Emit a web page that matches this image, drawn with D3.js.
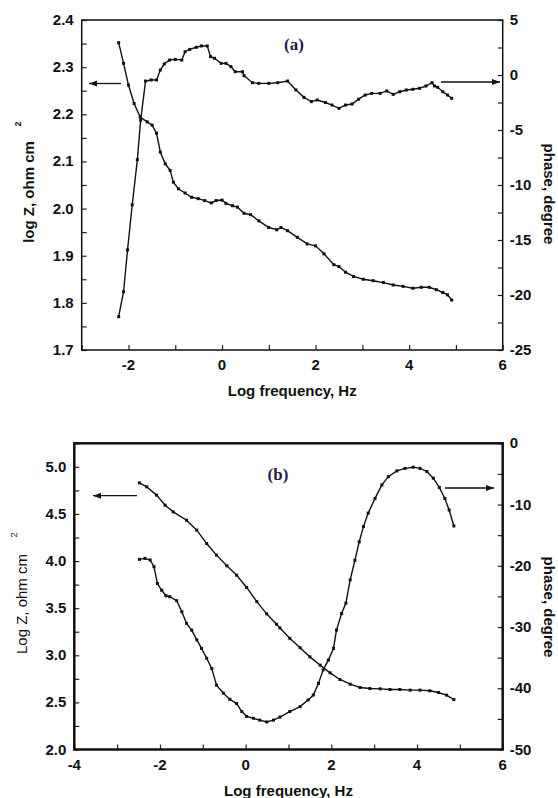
<!DOCTYPE html>
<html><head><meta charset="utf-8">
<script src="https://cdn.jsdelivr.net/npm/d3@7"></script>
<style>
html,body{margin:0;padding:0;background:#fff;}
svg{display:block;}
text{font-family:"Liberation Sans",Arial,sans-serif;fill:#111;}
</style></head>
<body>
<svg id="chart" width="558" height="798"></svg>
<script>
// ---------- Panel (a) data ----------
const aFreqZ = [-2.21,-2.105,-2.0,-1.88,-1.75,-1.6,-1.495,-1.40,-1.32,-1.214,-1.11,-1.04,-0.933,-0.79,-0.65,-0.51,-0.37,-0.23,-0.126,0,0.084,0.225,0.33,0.47,0.61,0.786,0.996,1.17,1.26,1.40,1.61,1.82,2.0,2.18,2.39,2.5,2.64,2.81,3.02,3.23,3.45,3.66,3.87,4.08,4.26,4.43,4.58,4.72,4.82,4.91];
const aLogZ  = [2.352,2.308,2.262,2.223,2.194,2.184,2.177,2.160,2.120,2.095,2.081,2.056,2.042,2.033,2.024,2.021,2.017,2.012,2.017,2.018,2.011,2.006,2.003,1.990,1.987,1.974,1.960,1.955,1.960,1.953,1.939,1.925,1.921,1.904,1.881,1.877,1.865,1.856,1.850,1.847,1.843,1.838,1.835,1.831,1.833,1.833,1.828,1.822,1.817,1.806];
const aFreqP = [-2.21,-2.105,-2.02,-1.92,-1.81,-1.74,-1.635,-1.516,-1.40,-1.32,-1.235,-1.12,-1.0,-0.86,-0.79,-0.69,-0.55,-0.44,-0.316,-0.245,-0.16,-0.02,0.084,0.19,0.28,0.435,0.47,0.65,0.786,1.0,1.19,1.40,1.58,1.75,1.91,2.035,2.21,2.35,2.5,2.64,2.78,2.92,3.06,3.2,3.38,3.52,3.66,3.8,3.94,4.08,4.22,4.36,4.49,4.54,4.61,4.72,4.82,4.91];
const aPhase = [-21.97,-19.7,-15.9,-11.8,-7.7,-4.1,-0.55,-0.45,-0.45,0.45,1.0,1.36,1.42,1.36,2.12,2.33,2.52,2.64,2.64,1.67,1.52,1.06,1.06,0.76,0.3,0.3,-0.06,-0.7,-0.76,-0.76,-0.7,-0.55,-1.36,-2.03,-2.42,-2.27,-2.5,-2.73,-3.03,-2.73,-2.64,-2.2,-1.82,-1.67,-1.67,-1.45,-1.76,-1.52,-1.36,-1.3,-1.21,-1.0,-0.7,-1.0,-1.12,-1.52,-1.82,-2.12];
const aXTicks = [-2,0,2,4,6];
const aYLeftTicks = [1.7,1.8,1.9,2.0,2.1,2.2,2.3,2.4];
const aYRightTicks = [-25,-20,-15,-10,-5,0,5];

// ---------- Panel (b) data ----------
const bFreqZ = [-2.48,-2.31,-2.08,-1.88,-1.69,-1.38,-1.14,-0.91,-0.68,-0.44,-0.21,0.023,0.26,0.49,0.72,0.80,1.03,1.27,1.50,1.74,1.97,2.2,2.44,2.67,2.9,3.14,3.37,3.6,3.84,4.07,4.3,4.5,4.69,4.86];
const bLogZ  = [4.83,4.788,4.70,4.593,4.522,4.434,4.328,4.186,4.063,3.95,3.85,3.72,3.57,3.44,3.33,3.29,3.18,3.08,2.983,2.895,2.814,2.743,2.693,2.658,2.647,2.644,2.637,2.637,2.63,2.63,2.623,2.605,2.577,2.53];
const bFreqP = [-2.48,-2.35,-2.23,-2.14,-2.06,-1.96,-1.86,-1.77,-1.61,-1.49,-1.38,-1.26,-1.14,-1.03,-0.91,-0.79,-0.68,-0.52,-0.37,-0.21,-0.09,0.023,0.18,0.33,0.49,0.65,0.80,1.03,1.27,1.46,1.58,1.70,1.81,1.93,2.05,2.12,2.24,2.34,2.44,2.55,2.65,2.75,2.86,3.02,3.18,3.33,3.53,3.72,3.91,4.07,4.23,4.38,4.52,4.65,4.75,4.86];
const bPhase = [-18.95,-18.8,-19.06,-20.15,-22.9,-24.0,-24.9,-25.05,-25.7,-27.5,-29.4,-30.5,-32.1,-33.5,-35.1,-36.8,-39.5,-40.8,-41.8,-42.5,-43.8,-44.6,-44.9,-45.2,-45.5,-45.2,-44.7,-43.8,-43.0,-41.9,-41.1,-39.2,-37.0,-35.4,-33.5,-30.5,-27.8,-26.1,-22.3,-19.1,-16.1,-13.6,-11.4,-9.0,-6.8,-5.45,-4.5,-4.1,-3.9,-4.1,-4.6,-5.7,-7.2,-9.0,-10.9,-13.5];
const bXTicks = [-4,-2,0,2,4,6];
const bYLeftTicks = [2.0,2.5,3.0,3.5,4.0,4.5,5.0];
const bYRightTicks = [-50,-40,-30,-20,-10,0];

const svg = d3.select("#chart");

function panel(cfg){
  const g = svg.append("g");
  const x = d3.scaleLinear().domain(cfg.xDom).range([cfg.left, cfg.right]);
  const yL = d3.scaleLinear().domain(cfg.yLDom).range([cfg.bottom, cfg.top]);
  const yR = d3.scaleLinear().domain(cfg.yRDom).range([cfg.bottom, cfg.top]);
  const tl = 5;

  const xAx = d3.axisBottom(x).tickValues(d3.range(cfg.xDom[0], cfg.xDom[1]+0.001, 1)).tickSizeInner(-tl).tickSizeOuter(0).tickFormat("");
  g.append("g").attr("transform",`translate(0,${cfg.bottom})`).call(xAx).call(s=>s.select(".domain").remove()).selectAll("line").attr("stroke","#222").attr("stroke-width",1.2);
  const yLAx = d3.axisLeft(yL).tickValues(d3.range(cfg.yLDom[0], cfg.yLDom[1]+1e-6, cfg.yLMinor)).tickSizeInner(-tl).tickSizeOuter(0).tickFormat("");
  g.append("g").attr("transform",`translate(${cfg.left},0)`).call(yLAx).call(s=>s.select(".domain").remove()).selectAll("line").attr("stroke","#222").attr("stroke-width",1.2);
  const yRAx = d3.axisRight(yR).tickValues(d3.range(cfg.yRDom[0], cfg.yRDom[1]+1e-6, cfg.yRMinor)).tickSizeInner(-tl).tickSizeOuter(0).tickFormat("");
  g.append("g").attr("transform",`translate(${cfg.right},0)`).call(yRAx).call(s=>s.select(".domain").remove()).selectAll("line").attr("stroke","#222").attr("stroke-width",1.2);

  g.append("rect").attr("x",cfg.left).attr("y",cfg.top).attr("width",cfg.right-cfg.left).attr("height",cfg.bottom-cfg.top)
    .attr("fill","none").attr("stroke","#111").attr("stroke-width",cfg.frameW);

  g.selectAll(".xl").data(cfg.xTicks).enter().append("text")
    .attr("x",d=>x(d)).attr("y",cfg.bottom+20).attr("text-anchor","middle")
    .attr("font-size",15).attr("font-weight","bold").text(d=>d);
  g.selectAll(".yl").data(cfg.yLTicks).enter().append("text")
    .attr("x",cfg.left-8).attr("y",d=>yL(d)+5).attr("text-anchor","end")
    .attr("font-size",15).attr("font-weight","bold").text(d=>d.toFixed(1));
  g.selectAll(".yr").data(cfg.yRTicks).enter().append("text")
    .attr("x",cfg.right+7).attr("y",d=>yR(d)+5).attr("text-anchor","start")
    .attr("font-size",15).attr("font-weight","bold").text(d=>d);

  g.append("text").attr("x",(cfg.left+cfg.right)/2).attr("y",cfg.xTitleY).attr("text-anchor","middle")
    .attr("font-size",15).attr("font-weight","bold").text("Log frequency, Hz");
  g.append("text").attr("transform",`translate(${cfg.lTitleX},${cfg.lTitleY}) rotate(-90)`)
    .attr("text-anchor","middle").attr("font-size",15).attr("font-weight",cfg.lTitleWeight).text(cfg.lTitle);
  g.append("text").attr("transform",`translate(${cfg.supX},${cfg.supY}) rotate(-90)`)
    .attr("text-anchor","middle").attr("font-size",9).attr("font-weight",cfg.lTitleWeight).text("2");
  g.append("text").attr("transform",`translate(${cfg.rTitleX},${cfg.rTitleY}) rotate(90)`)
    .attr("text-anchor","middle").attr("font-size",15).attr("font-weight","bold").text("phase, degree");

  g.append("text").attr("x",cfg.labX).attr("y",cfg.labY).attr("text-anchor","middle")
    .style("font-family","'Liberation Serif','Times New Roman',serif").attr("font-size",17).attr("font-weight","bold")
    .style("fill","#1e1e48").text(cfg.label);

  const series = [
    {xs:cfg.zx, ys:cfg.zy, sc:yL},
    {xs:cfg.px, ys:cfg.py, sc:yR}
  ];
  series.forEach(s=>{
    const pts = s.xs.map((v,i)=>[x(v), s.sc(s.ys[i])]);
    g.append("path").attr("d",d3.line()(pts)).attr("fill","none").attr("stroke","#111").attr("stroke-width",1.4);
    g.selectAll(null).data(pts).enter().append("rect")
      .attr("x",d=>d[0]-1.5).attr("y",d=>d[1]-1.5).attr("width",3).attr("height",3).attr("fill","#111");
  });

  cfg.arrows.forEach(a=>{
    const y = a.y;
    g.append("line").attr("x1",a.x1).attr("x2",a.x2).attr("y1",y).attr("y2",y).attr("stroke","#111").attr("stroke-width",1.3);
    const dir = Math.sign(a.x2-a.x1);
    g.append("path").attr("d",`M${a.x2},${y} L${a.x2-dir*8},${y-3} L${a.x2-dir*8},${y+3} Z`).attr("fill","#111");
  });
}

panel({
  left:81.7, right:502.7, top:20, bottom:350,
  xDom:[-3,6], yLDom:[1.7,2.4], yRDom:[-25,5],
  yLMinor:0.05, yRMinor:2.5, frameW:1.5,
  xTicks:aXTicks, yLTicks:aYLeftTicks, yRTicks:aYRightTicks,
  xTitleY:396,
  lTitle:"log Z, ohm cm", lTitleWeight:"bold", lTitleX:34, lTitleY:192, supX:21, supY:124,
  rTitleX:544, rTitleY:194,
  label:"(a)", labX:294, labY:50,
  zx:aFreqZ, zy:aLogZ, px:aFreqP, py:aPhase,
  arrows:[{x1:121,x2:89,y:83.5},{x1:441,x2:500,y:82}]
});

panel({
  left:74.3, right:502.7, top:443.3, bottom:749.5,
  xDom:[-4,6], yLDom:[2.0,5.25], yRDom:[-50,0],
  yLMinor:0.25, yRMinor:5, frameW:2.5,
  xTicks:bXTicks, yLTicks:bYLeftTicks, yRTicks:bYRightTicks,
  xTitleY:796,
  lTitle:"Log Z, ohm cm", lTitleWeight:"normal", lTitleX:27, lTitleY:604, supX:17, supY:535,
  rTitleX:544, rTitleY:607,
  label:"(b)", labX:278, labY:480,
  zx:bFreqZ, zy:bLogZ, px:bFreqP, py:bPhase,
  arrows:[{x1:137,x2:93,y:495.7},{x1:445,x2:494,y:488}]
});
</script>
</body></html>
